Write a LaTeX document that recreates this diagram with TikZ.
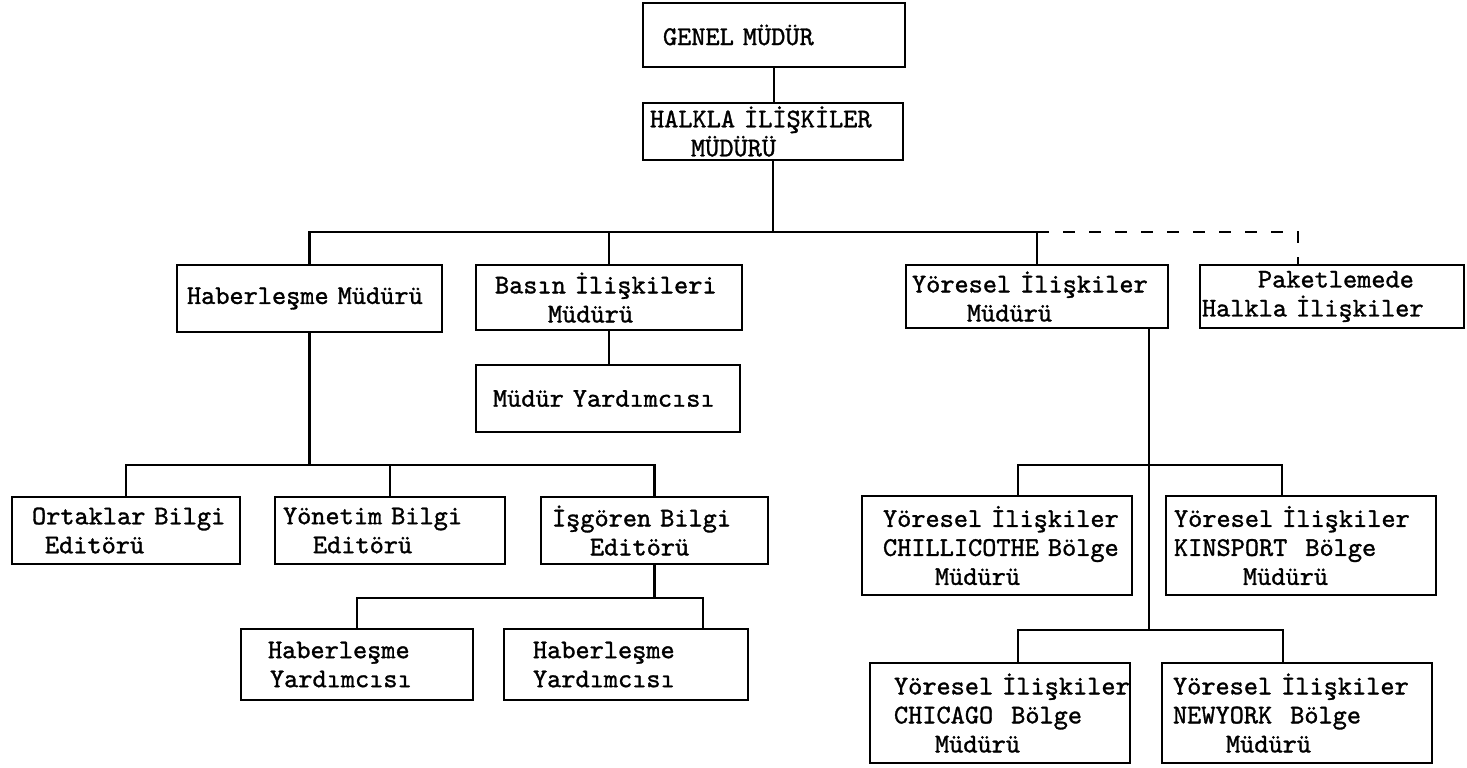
\documentclass[tikz,border=0pt]{standalone}
\usepackage{fontspec}
\newfontfamily\twfont{lmmono10-regular}[Extension=.otf, FakeBold=1.2]
\usetikzlibrary{calc}
\newcommand\lnx[2]{\mbox{\hspace*{#1pt}#2}}
\newcommand\obox[6]{%
  \pgfmathsetmacro\bw{(#4-#2)*0.5}%
  \node[orgbox, text width=\bw pt, minimum height={(#5-#3)*0.5pt}] (#1) at ({(#2+#4)/2},{(#3+#5)/2}) {#6};}
\begin{document}
\begin{tikzpicture}[x=0.5pt,y=-0.5pt,
  orgbox/.style={draw, line width=1.4pt, inner sep=0pt, align=left,
    font=\twfont\fontsize{13.5}{14.5}\selectfont},
  link/.style={line width=1.1pt},
  dlink/.style={line width=1.3pt, dash pattern=on 6pt off 7pt}]
\useasboundingbox (0,0) rectangle (1467,767);

\obox{genel}{643}{3}{905}{67}{\lnx{10}{GENEL MÜDÜR}}
\obox{halkla}{643}{103}{903}{160}{\lnx{3.5}{HALKLA İLİŞKİLER}\\\lnx{24}{MÜDÜRÜ}}
\obox{haber}{177}{265}{442}{332}{\lnx{5}{Haberleşme Müdürü}}
\obox{basin}{476}{265}{742}{330}{\lnx{9.5}{Basın İlişkileri}\\\lnx{36}{Müdürü}}
\obox{myard}{476}{365}{740}{432}{\lnx{8.5}{Müdür Yardımcısı}}
\obox{yores}{906}{265}{1168}{328}{\lnx{3}{Yöresel İlişkiler}\\\lnx{30.5}{Müdürü}}
\obox{paket}{1200}{265}{1464}{328}{\lnx{29}{Paketlemede}\\\lnx{1}{Halkla İlişkiler}}
\obox{ortak}{12}{497}{240}{564}{\lnx{10}{Ortaklar Bilgi}\\\lnx{16.5}{Editörü}}
\obox{yonet}{275}{497}{505}{564}{\lnx{4}{Yönetim Bilgi}\\\lnx{19}{Editörü}}
\obox{isgor}{541}{497}{768}{564}{\lnx{5.5}{İşgören Bilgi}\\\lnx{24.5}{Editörü}}
\obox{hyA}{241}{629}{473}{700}{\lnx{13.5}{Haberleşme}\\\lnx{14.5}{Yardımcısı}}
\obox{hyB}{504}{629}{748}{700}{\lnx{14.5}{Haberleşme}\\\lnx{14.5}{Yardımcısı}}
\obox{chil}{862}{496}{1132}{595}{\lnx{10.5}{Yöresel İlişkiler}\\\lnx{10.5}{CHILLICOTHE Bölge}\\\lnx{36.5}{Müdürü}}
\obox{kins}{1166}{496}{1436}{595}{\lnx{4}{Yöresel İlişkiler}\\\lnx{4}{KINSPORT\ \ Bölge}\\\lnx{38.5}{Müdürü}}
\obox{chic}{870}{663}{1130}{763}{\lnx{12}{Yöresel İlişkiler}\\\lnx{12}{CHICAGO\ \ Bölge}\\\lnx{32.5}{Müdürü}}
\obox{newy}{1162}{663}{1432}{763}{\lnx{5.5}{Yöresel İlişkiler}\\\lnx{5.5}{NEWYORK\ \ Bölge}\\\lnx{32}{Müdürü}}

% junction coordinates
\coordinate (topbus) at (773,232);
\coordinate (dtop) at (1298,232);
\coordinate (leftbus) at (309,465);
\coordinate (hyBtop) at (703,598);
\coordinate (ydown) at (1149,328);
\coordinate (rbusB) at (1149,630);
\coordinate (chilA) at (1018,465);
\coordinate (kinsA) at (1282,465);
\coordinate (chicA) at (1018,630);
\coordinate (newyA) at (1283,630);

% top
\draw[link] (genel.south) -- (genel.south |- halkla.north);
\draw[link] (halkla.south) -- (halkla.south |- topbus);
\draw[link] (haber.north) -- (haber.north |- topbus) -- (yores.north |- topbus) -- (yores.north);
\draw[link] (basin.north |- topbus) -- (basin.north);
\draw[dlink] (yores.north |- topbus) -- (dtop) -- (dtop |- paket.north);
\draw[link] (basin.south) -- (basin.south |- myard.north);

% left subtree
\draw[link] (haber.south) -- (haber.south |- leftbus);
\draw[link] (ortak.north) -- (ortak.north |- leftbus) -- (isgor.north |- leftbus) -- (isgor.north);
\draw[link] (yonet.north |- leftbus) -- (yonet.north);
\draw[link] (isgor.south) -- (isgor.south |- hyBtop);
\draw[link] (hyA.north) -- (hyA.north |- hyBtop) -- (hyBtop) -- (hyBtop |- hyB.north);

% right subtree
\draw[link] (ydown) -- (rbusB);
\draw[link] (chilA |- chil.north) -- (chilA) -- (kinsA) -- (kinsA |- kins.north);
\draw[link] (chicA |- chic.north) -- (chicA) -- (newyA) -- (newyA |- newy.north);
\end{tikzpicture}
\end{document}
